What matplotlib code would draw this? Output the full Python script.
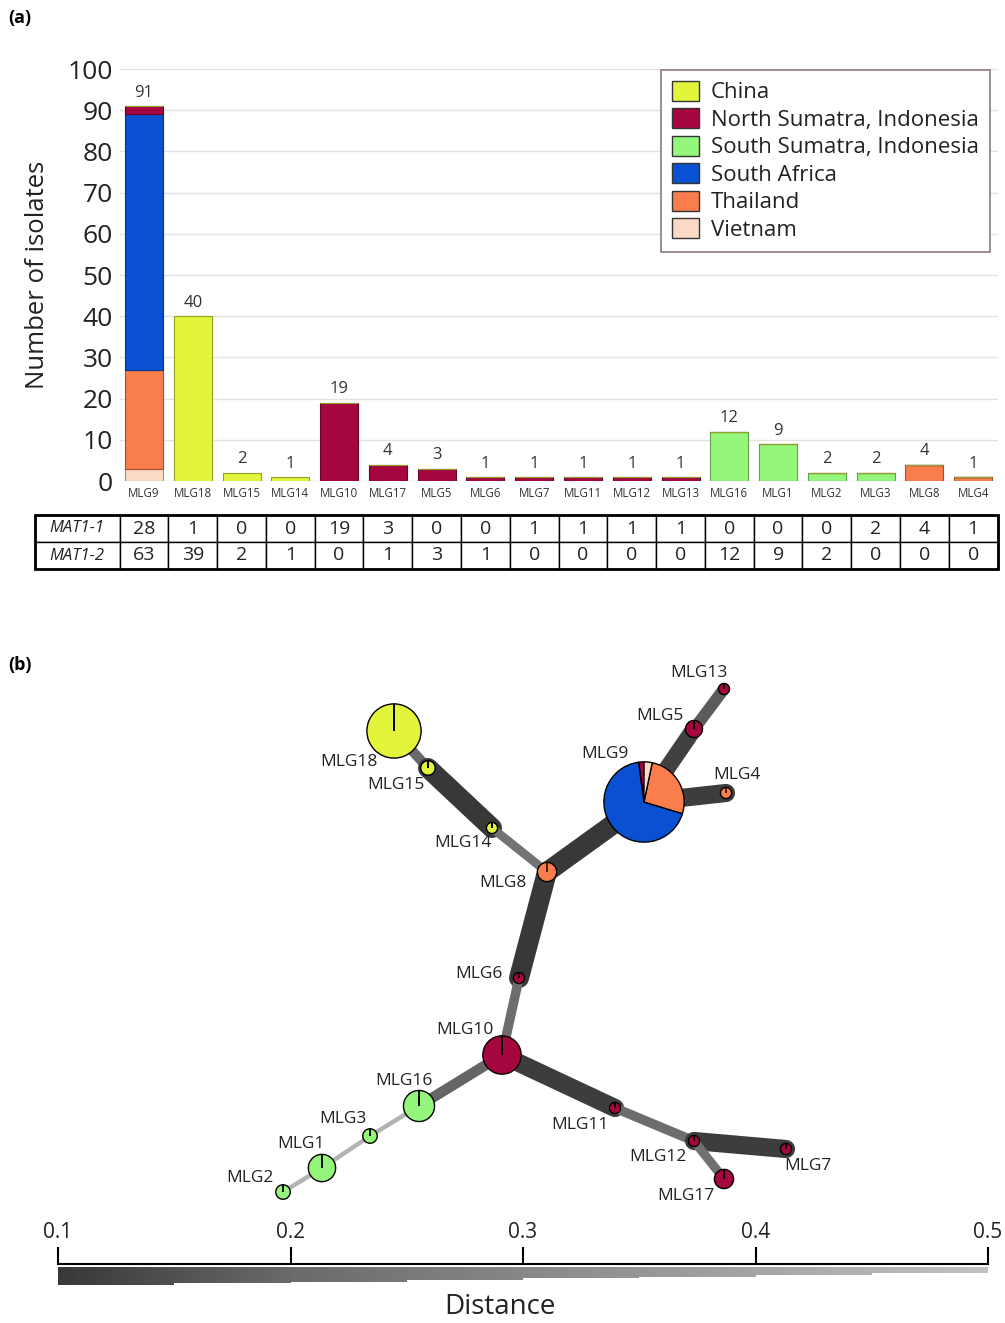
import numpy as np
import matplotlib
matplotlib.use("Agg")
import matplotlib.pyplot as plt
from matplotlib.colors import LinearSegmentedColormap, Normalize, to_rgb
from matplotlib.patches import Rectangle

plt.rcParams['font.family'] = ['Open Sans', 'DejaVu Sans']

# ---------------- data ----------------
mlg = ["MLG9", "MLG18", "MLG15", "MLG14", "MLG10", "MLG17", "MLG5", "MLG6", "MLG7",
       "MLG11", "MLG12", "MLG13", "MLG16", "MLG1", "MLG2", "MLG3", "MLG8", "MLG4"]
countries = ["China", "North Sumatra, Indonesia", "South Sumatra, Indonesia",
             "South Africa", "Thailand", "Vietnam"]
china         = [0, 40, 2, 1, 0, 0, 0, 0, 0, 0, 0, 0, 0, 0, 0, 0, 0, 0]
north_sumatra = [2, 0, 0, 0, 19, 4, 3, 1, 1, 1, 1, 1, 0, 0, 0, 0, 0, 0]
south_sumatra = [0, 0, 0, 0, 0, 0, 0, 0, 0, 0, 0, 0, 12, 9, 2, 2, 0, 0]
south_africa  = [62, 0, 0, 0, 0, 0, 0, 0, 0, 0, 0, 0, 0, 0, 0, 0, 0, 0]
thailand      = [24, 0, 0, 0, 0, 0, 0, 0, 0, 0, 0, 0, 0, 0, 0, 0, 4, 1]
vietnam       = [3, 0, 0, 0, 0, 0, 0, 0, 0, 0, 0, 0, 0, 0, 0, 0, 0, 0]

mat1_1 = [28, 1, 0, 0, 19, 3, 0, 0, 1, 1, 1, 1, 0, 0, 0, 2, 4, 1]
mat1_2 = [63, 39, 2, 1, 0, 1, 3, 1, 0, 0, 0, 0, 12, 9, 2, 0, 0, 0]

# minimum spanning network edges: (from, to, distance)
edges = [("MLG18", "MLG15", 0.20), ("MLG15", "MLG14", 0.10), ("MLG14", "MLG8", 0.23),
         ("MLG8", "MLG9", 0.10), ("MLG9", "MLG5", 0.12), ("MLG5", "MLG13", 0.17),
         ("MLG9", "MLG4", 0.11), ("MLG8", "MLG6", 0.10), ("MLG6", "MLG10", 0.21),
         ("MLG10", "MLG16", 0.19), ("MLG16", "MLG3", 0.45), ("MLG3", "MLG1", 0.45),
         ("MLG1", "MLG2", 0.45), ("MLG10", "MLG11", 0.11), ("MLG11", "MLG12", 0.21),
         ("MLG12", "MLG7", 0.11), ("MLG12", "MLG17", 0.22)]
dist_ticks = [0.1, 0.2, 0.3, 0.4, 0.5]

# ---------------- layout / style ----------------
colors = {"China": "#e3f53b", "North Sumatra, Indonesia": "#a6063f",
          "South Sumatra, Indonesia": "#94f77c", "South Africa": "#0a50d2",
          "Thailand": "#fa7d4c", "Vietnam": "#fcd9c7"}

node_pos = {"MLG9": (644, 413), "MLG18": (394, 484), "MLG15": (428, 447),
            "MLG14": (492, 387), "MLG10": (502, 160), "MLG17": (724, 36),
            "MLG5": (694, 486), "MLG6": (519, 237), "MLG7": (786, 66),
            "MLG11": (615, 107), "MLG12": (694, 74), "MLG13": (724, 526),
            "MLG16": (419, 109), "MLG1": (322, 47), "MLG2": (283, 23),
            "MLG3": (370, 79), "MLG8": (547, 343), "MLG4": (726, 422)}
label_off = {"MLG13": (-25, 16), "MLG5": (-34, 13), "MLG9": (-39, 48), "MLG4": (11, 18),
             "MLG18": (-45, -31), "MLG15": (-32, -17), "MLG14": (-29, -15),
             "MLG8": (-44, -11), "MLG6": (-40, 4), "MLG10": (-37, 25),
             "MLG16": (-15, 25), "MLG3": (-27, 17), "MLG1": (-21, 24),
             "MLG2": (-33, 14), "MLG11": (-35, -17), "MLG12": (-36, -16),
             "MLG7": (22, -17), "MLG17": (-38, -17)}

W, H = 1005, 1323


def px_box(x0, y0, x1, y1):
    return [x0 / W, 1 - y1 / H, (x1 - x0) / W, (y1 - y0) / H]


def darker(c, f=0.65):
    return tuple(v * f for v in to_rgb(c))


fig = plt.figure(figsize=(W / 100, H / 100), dpi=100)

# ---------------- (a) stacked bars ----------------
ax = fig.add_axes(px_box(119.6, 69, 997.6, 481))
x = np.arange(len(mlg))
stack = [("Vietnam", vietnam), ("Thailand", thailand), ("South Africa", south_africa),
         ("South Sumatra, Indonesia", south_sumatra),
         ("North Sumatra, Indonesia", north_sumatra), ("China", china)]
bottom = np.zeros(len(mlg))
for name, vals in stack:
    vals = np.array(vals, dtype=float)
    ax.bar(x, vals, bottom=bottom, width=0.78, color=colors[name],
           edgecolor=darker(colors[name]), linewidth=0.8, zorder=3)
    bottom += vals
for i, tot in enumerate(bottom):
    ax.text(i, tot + 1.3, f"{int(tot)}", ha="center", va="bottom",
            fontsize=12, color="#333333")

ax.set_xlim(-0.5, len(mlg) - 0.5)
ax.set_ylim(0, 100)
ax.set_yticks(np.arange(0, 101, 10))
ax.set_xticks(x, mlg)
ax.tick_params(axis="x", length=0, pad=4, labelsize=8.3, labelcolor="#333333")
ax.tick_params(axis="y", length=0, pad=5, labelsize=19, labelcolor="#222222")
ax.grid(axis="y", color="#e3e3e3", linewidth=1, zorder=0)
for s in ax.spines.values():
    s.set_visible(False)
ax.set_ylabel("Number of isolates", fontsize=18.5, color="#222222")
ax.yaxis.set_label_coords(-0.079, 0.5)

handles = [Rectangle((0, 0), 1, 1, facecolor=colors[c], edgecolor="#333333",
                     linewidth=1) for c in countries]
leg = ax.legend(handles, countries, loc="upper right", bbox_to_anchor=(0.991, 0.998),
                borderaxespad=0, fontsize=16, fancybox=False, framealpha=1,
                edgecolor="#8b7b7b", handlelength=1.25, handleheight=1.0,
                labelspacing=0.22, handletextpad=0.5, borderpad=0.5)
leg.get_frame().set_linewidth(1.2)
for t in leg.get_texts():
    t.set_color("#222222")

# MAT table under the bars
lab_w = (119.6 - 35) / 878
cell_text = [["MAT1-1"] + [str(v) for v in mat1_1],
             ["MAT1-2"] + [str(v) for v in mat1_2]]
tbl = ax.table(cellText=cell_text, cellLoc="center",
               colWidths=[lab_w] + [1 / len(mlg)] * len(mlg),
               bbox=[-lab_w, (481 - 569) / 412, 1 + lab_w, 54 / 412])
tbl.auto_set_font_size(False)
for (r, c), cell in tbl.get_celld().items():
    cell.set_linewidth(1.0)
    cell.set_edgecolor("black")
    cell.get_text().set_fontsize(14)
    cell.get_text().set_color("#222222")
    if c == 0:
        cell.get_text().set_fontstyle("italic")
        cell.get_text().set_fontsize(12)
ax.add_patch(Rectangle((-lab_w, (481 - 569) / 412), 1 + lab_w, 54 / 412,
                       transform=ax.transAxes, fill=False, linewidth=2,
                       edgecolor="black", clip_on=False, zorder=5))

fig.text(8 / W, 1 - 18 / H, "(a)", fontsize=13, fontweight="bold", va="center")
fig.text(8 / W, 1 - 665 / H, "(b)", fontsize=13, fontweight="bold", va="center")

# ---------------- (b) minimum spanning network ----------------
cmap = LinearSegmentedColormap.from_list(
    "dist", [(0.0, "#383838"), (0.25, "#6a6a6a"), (1.0, "#c2c2c2")])
norm = Normalize(0.1, 0.5)

ax2 = fig.add_axes(px_box(0, 640, 1005, 1215))
for a, b, d in edges:
    (x1, y1), (x2, y2) = node_pos[a], node_pos[b]
    ax2.plot([x1, x2], [y1, y2], color=cmap(norm(d)), linewidth=2 / d * 0.72,
             solid_capstyle="round", zorder=1)

counts = np.array([china, north_sumatra, south_sumatra, south_africa, thailand, vietnam])
for i, name in enumerate(mlg):
    vals = counts[:, i]
    r = 1.5 + 4.05 * np.sqrt(vals.sum())
    ax2.pie(vals, colors=[colors[c] for c in countries], center=node_pos[name],
            radius=r, startangle=90, counterclock=True, frame=True,
            wedgeprops=dict(edgecolor="black", linewidth=1.0, zorder=3))
    dx, dy = label_off[name]
    px, py = node_pos[name]
    ax2.text(px + dx, py + dy, name, ha="center", va="center", fontsize=12.5,
             color="#222222", zorder=4)
ax2.set_xlim(0, 1005)
ax2.set_ylim(0, 575)
ax2.set_aspect("auto")
ax2.axis("off")

# distance scale
ax3 = fig.add_axes(px_box(58, 1264, 988, 1290))
dd = np.linspace(0.1, 0.5, 241)
steps = np.floor((dd[:-1] - 0.1) / 0.05 + 1e-9) * 0.05
heights = 18 - 34 * steps
ax3.bar(dd[:-1], heights, width=np.diff(dd), bottom=3, align="edge",
        color=cmap(norm(dd[:-1])), linewidth=0)
ax3.set_xlim(0.1, 0.5)
ax3.set_ylim(26, 0)
ax3.set_yticks([])
ax3.xaxis.tick_top()
ax3.set_xticks(dist_ticks, [f"{t:.1f}" for t in dist_ticks])
ax3.tick_params(axis="x", direction="out", length=12, width=1.5, labelsize=15,
                pad=3, labelcolor="#222222")
for k, s in ax3.spines.items():
    s.set_visible(k == "top")
ax3.spines["top"].set_linewidth(1.5)
fig.text(500 / W, 1 - 1307 / H, "Distance", ha="center", va="center", fontsize=20,
         color="#222222")

fig.savefig("out.png", dpi=100)
